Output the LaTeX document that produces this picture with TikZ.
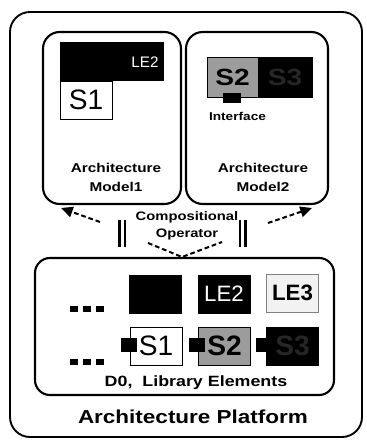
\documentclass[tikz,border=0pt]{standalone}
\usepackage{fontspec}
\setmainfont{Liberation Sans}
\newfontfamily\wide[FakeStretch=1.2]{Liberation Sans}
\usetikzlibrary{arrows.meta}
\definecolor{S2}{HTML}{9c9c9c}
\definecolor{LE3}{HTML}{f2f2f2}
\definecolor{ghost}{HTML}{262626}

\begin{document}
\begin{tikzpicture}[x=0.03cm, y=-0.03cm,
    panel/.style={draw, line width=1.8pt, rounded corners=0.5cm, inner sep=0pt},
    elem/.style={draw, line width=0.6pt, inner sep=0pt, minimum width=1.56cm, minimum height=1.14cm},
    port/.style={fill=black, inner sep=0pt, minimum width=0.48cm, minimum height=0.42cm},
    caption/.style={font=\wide\bfseries\fontsize{10.9}{16}\selectfont, align=center},
    opline/.style={line width=1.7pt, dash pattern=on 4pt off 2.5pt},
    oparrow/.style={opline, -{Triangle[length=10pt, width=9pt]}}]

    \useasboundingbox (0,0) rectangle (367,441);

    \node at (186,224.5) (platform) [panel, line width=1.6pt, rounded corners=0.6cm, minimum width=10.56cm, minimum height=12.75cm] {};
    \node at (112,118) (model1) [panel, minimum width=4.14cm, minimum height=5.16cm] {};
    \node at (257,118) (model2) [panel, minimum width=4.26cm, minimum height=5.16cm] {};
    \node at (184.5,326.5) (library) [panel, rounded corners=0.45cm, minimum width=8.97cm, minimum height=4.11cm] {};

    \node at (112,61.5) (m1bar) [fill=black, inner sep=0pt, minimum width=3.12cm, minimum height=1.17cm] {};
    \node at (145,62) (m1le2) [text=white, font=\fontsize{13}{13}\selectfont] {LE2};
    \node at (86,100) (m1s1) [elem, fill=white, font=\fontsize{24}{24}\selectfont] {S1};
    \node at (116,177.5) (m1cap) [caption] {Architecture\\Model1};

    \node at (232.5,77) (m2s2) [elem, fill=S2, minimum width=1.53cm, minimum height=1.2cm, font=\wide\bfseries\fontsize{20}{20}\selectfont] {S2};
    \node at (285,77) (m2s3) [elem, fill=black, text=ghost, minimum width=1.62cm, minimum height=1.2cm, font=\wide\bfseries\fontsize{20}{20}\selectfont] {S3};
    \node at (232,98) (m2port) [port, minimum width=0.54cm, minimum height=0.3cm] {};
    \node at (237.5,116) (m2iface) [font=\wide\bfseries\fontsize{9.7}{9.7}\selectfont] {Interface};
    \node at (263,177.5) (m2cap) [caption] {Architecture\\Model2};

    \node at (187,226) (operator) [caption, font=\wide\bfseries\fontsize{10.5}{14.5}\selectfont] {Compositional\\Operator};
    \coordinate (m1tail) at (100,222);
    \coordinate (m1head) at (61,208);
    \coordinate (m2tail) at (268,223);
    \coordinate (m2head) at (312,208);
    \coordinate (opleft) at (148,243);
    \coordinate (opright) at (222,242);
    \coordinate (optip) at (182,257);
    \draw[oparrow] (m1tail) -- (m1head);
    \draw[oparrow] (m2tail) -- (m2head);
    \draw[opline] (opleft) -- (optip) -- (opright);
    \foreach \x in {119.5,125,240,245.5}
        \draw[line width=2.1pt] (\x,220) -- (\x,247);

    \node at (155.5,294) (le1) [elem, fill=black] {};
    \node at (224,294) (le2) [elem, fill=black, text=white, font=\fontsize{19}{19}\selectfont] {LE2};
    \node at (292.5,293) (le3) [elem, draw=gray, fill=LE3, font=\bfseries\fontsize{19}{19}\selectfont] {LE3};

    \node at (156,346) (s1) [elem, fill=white, font=\fontsize{24}{24}\selectfont] {S1};
    \node at (224.5,346) (s2) [elem, fill=S2, font=\bfseries\fontsize{24}{24}\selectfont] {S2};
    \node at (292.5,346) (s3) [elem, fill=black, text=ghost, font=\bfseries\fontsize{24}{24}\selectfont] {S3};
    \node at (129,345) (s1port) [port] {};
    \node at (197,345) (s2port) [port] {};
    \node at (264,345) (s3port) [port] {};

    \foreach \y in {309,362}
        \foreach \x in {73.5,87,99.5}
            \fill (\x-4,\y-3) rectangle (\x+4,\y+3);

    \node at (196,383) (d0) [font=\wide\bfseries\fontsize{12.7}{12.7}\selectfont] {D0,\ \ Library Elements};
    \node at (193,417) (platformcap) [font=\wide\bfseries\fontsize{16}{16}\selectfont] {Architecture Platform};

\end{tikzpicture}
\end{document}
